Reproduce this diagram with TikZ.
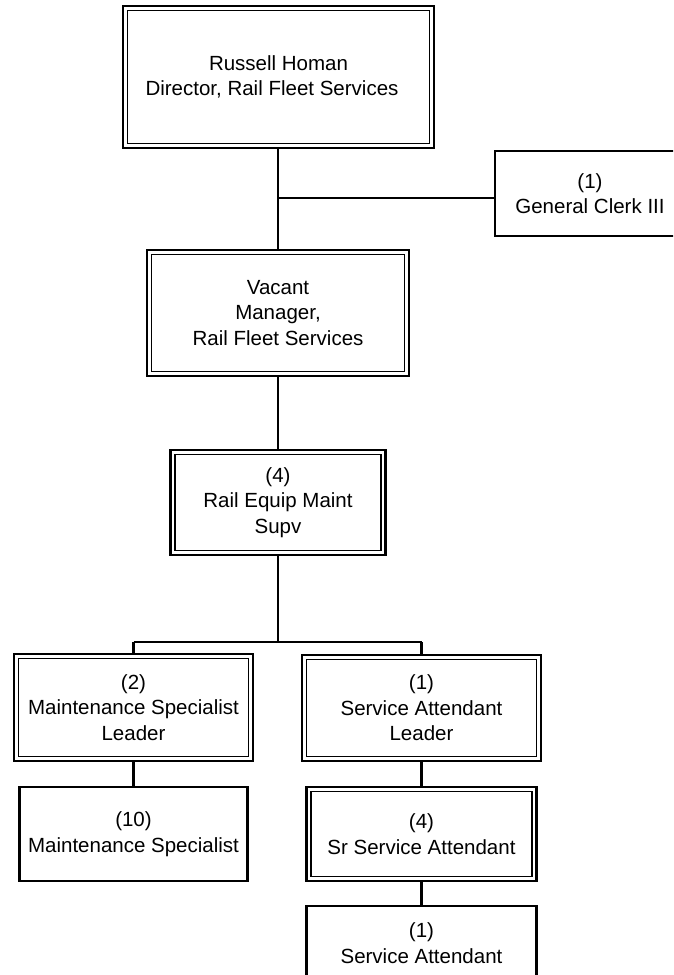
\documentclass[tikz,border=0pt]{standalone}
\usepackage{fontspec}
\setmainfont{Liberation Sans}
\begin{document}
\begin{tikzpicture}[x=1pt,y=-1pt,
  every node/.style={align=center,font=\fontsize{20.5}{25.5}\selectfont,inner sep=0pt,outer sep=0pt},
  dbox/.style={draw,line width=2.5pt,fill=white},
  sbox/.style={draw,line width=2.1pt,fill=white},
  conn/.style={line width=2.1pt},
  innerline/.style={line width=1.1pt}]
\useasboundingbox (0,0) rectangle (673,975);
\clip (0,0) rectangle (673,975);
\fill[white] (0,0) rectangle (673,975);

\coordinate (j1) at (278,198);
\coordinate (j2) at (278,642);
\coordinate (jl) at (133.5,642);
\coordinate (jr) at (421.5,642);

\node[dbox,minimum width=311pt,minimum height=142pt] (dir) at (278.5,77) {Russell Homan\\Director, Rail Fleet Services\hspace*{13pt}};
\node[sbox,minimum width=190pt,minimum height=85pt] (clerk) at (590,193.5) {(1)\\General Clerk III};
\node[dbox,minimum width=262pt,minimum height=126pt] (mgr) at (278,313) {Vacant\\Manager,\\Rail Fleet Services};
\node[dbox,minimum width=215pt,minimum height=105pt] (supv) at (278,502.5) {(4)\\Rail Equip Maint\\Supv};
\node[dbox,minimum width=239pt,minimum height=107pt] (msl) at (133.5,707.5) {(2)\\Maintenance Specialist\\Leader};
\node[dbox,minimum width=239pt,minimum height=106pt] (sal) at (421.5,708) {(1)\\Service Attendant\\Leader};
\node[sbox,minimum width=228pt,minimum height=94pt] (ms) at (133.5,834) {(10)\\Maintenance Specialist};
\node[dbox,minimum width=230pt,minimum height=94pt] (ssa) at (421.5,834) {(4)\\Sr Service Attendant};
\node[sbox,minimum width=230pt,minimum height=74pt] (sa) at (421.5,943) {(1)\\Service Attendant};

\draw[conn] (dir.south -| j1) -- (mgr.north -| j1);
\draw[conn] (j1) -- (j1 -| clerk.west);
\draw[conn] (mgr.south) -- (supv.north);
\draw[conn] (supv.south) -- (j2);
\draw[conn] (jl) -- (jr);
\draw[conn] (jl) -- (msl.north);
\draw[conn] (jr) -- (sal.north);
\draw[conn] (msl.south) -- (ms.north);
\draw[conn] (sal.south) -- (ssa.north);
\draw[conn] (ssa.south) -- (sa.north);

\foreach \n in {dir,mgr,supv,msl,sal,ssa}{
  \draw[innerline] ([shift={(4.5,4.5)}]\n.north west) rectangle ([shift={(-4.5,-4.5)}]\n.south east);
}
\end{tikzpicture}
\end{document}
